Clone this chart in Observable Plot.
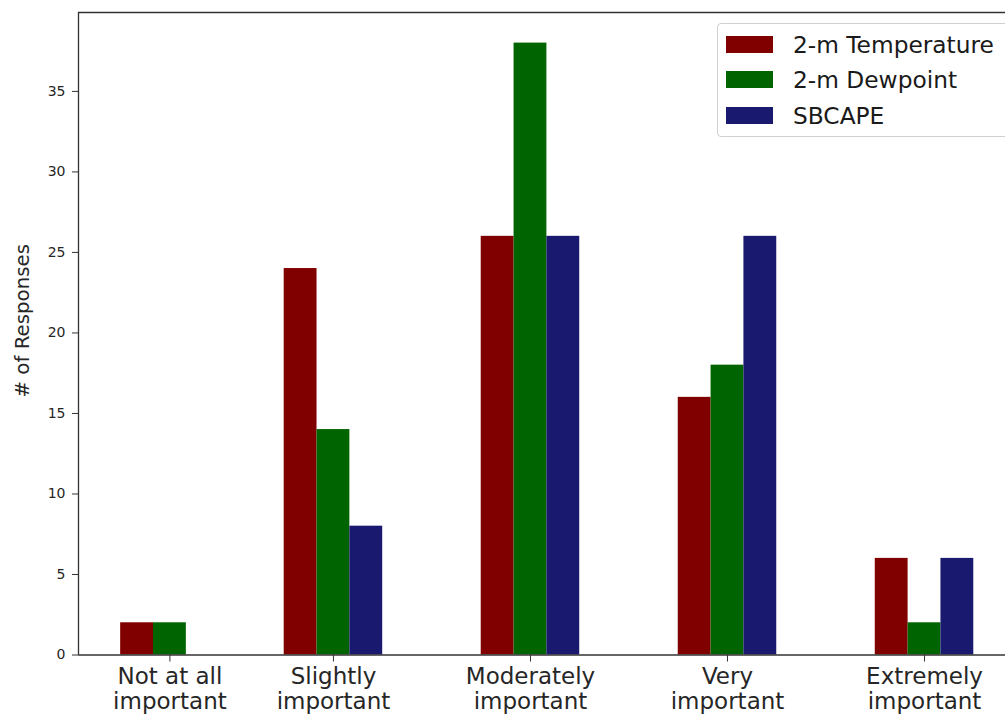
<!DOCTYPE html>
<html>
<head>
<meta charset="utf-8">
<script src="https://cdn.jsdelivr.net/npm/d3@7"></script>
<script src="https://cdn.jsdelivr.net/npm/@observablehq/plot@0.6"></script>
<style>
  body { margin: 0; background: #fff; }
  #wrap { position: relative; width: 1005px; height: 715px; overflow: hidden; font-family: "DejaVu Sans", sans-serif; }
  #legend { position: absolute; left: 717px; top: 23px; width: 292px; height: 114px; border: 1px solid #d0d0d0; border-radius: 4px; background: rgba(255,255,255,0.85); box-sizing: border-box; }
  .row { position: absolute; left: 8px; height: 20px; display: flex; align-items: center; }
  .sw { width: 47px; height: 17px; margin-right: 20px; }
  .lab { font-size: 23.3px; color: #1a1a1a; white-space: nowrap; }
</style>
</head>
<body>
<div id="wrap"></div>
<script>
// ---- data ----
const categories = ["Not at all\nimportant", "Slightly\nimportant", "Moderately\nimportant", "Very\nimportant", "Extremely\nimportant"];
const categoryX = [0.17, 1, 2, 3, 4];
const series = ["2-m Temperature", "2-m Dewpoint", "SBCAPE"];
const temperature = [2, 24, 26, 16, 6];
const dewpoint = [2, 14, 38, 18, 2];
const sbcape = [0, 8, 26, 26, 6];
const colors = ["#800000", "#006400", "#191970"];
const yTicks = [0, 5, 10, 15, 20, 25, 30, 35];
const yLabel = "# of Responses";

// ---- build table ----
const barWidth = 1 / 6;
const values = [temperature, dewpoint, sbcape];
const rows = [];
series.forEach((s, si) => {
  values[si].forEach((v, ci) => {
    const c = categoryX[ci] + (si - 1) * barWidth;
    rows.push({series: s, value: v, x1: c - barWidth / 2, x2: c + barWidth / 2});
  });
});

const xDomain = [-0.294, 4.411];
const yDomain = [0, 39.9];

const chart = Plot.plot({
  width: 1005,
  height: 715,
  marginLeft: 78,
  marginRight: 0,
  marginTop: 12,
  marginBottom: 60.5,
  style: {fontFamily: "DejaVu Sans, sans-serif", color: "#262626", background: "#fff"},
  x: {domain: xDomain},
  y: {domain: yDomain},
  color: {domain: series, range: colors},
  marks: [
    Plot.rectY(rows, {x1: "x1", x2: "x2", y: "value", fill: "series"}),
    Plot.ruleX([xDomain[0]], {stroke: "#333", strokeWidth: 1.3}),
    Plot.ruleY([yDomain[0], yDomain[1]], {stroke: "#333", strokeWidth: 1.3}),
    Plot.axisY({ticks: yTicks, tickSize: 6, tickPadding: 7, fontSize: 14, label: null, stroke: "#333"}),
    Plot.axisX({ticks: categoryX, tickSize: 7, tickPadding: 4, fontSize: 23, lineHeight: 1.1,
      tickFormat: (d, i) => categories[i], label: null, stroke: "#333"}),
    Plot.text([yLabel], {frameAnchor: "left", textAnchor: "middle", rotate: -90, dx: -56, dy: -13, fontSize: 19.8, fill: "#262626"})
  ]
});

const wrap = document.getElementById("wrap");
wrap.appendChild(chart);

const legend = document.createElement("div");
legend.id = "legend";
series.forEach((s, i) => {
  const row = document.createElement("div");
  row.className = "row";
  row.style.top = (10 + i * 35.5) + "px";
  const sw = document.createElement("div");
  sw.className = "sw";
  sw.style.background = colors[i];
  const lab = document.createElement("span");
  lab.className = "lab";
  lab.textContent = s;
  row.appendChild(sw);
  row.appendChild(lab);
  legend.appendChild(row);
});
wrap.appendChild(legend);
</script>
</body>
</html>
